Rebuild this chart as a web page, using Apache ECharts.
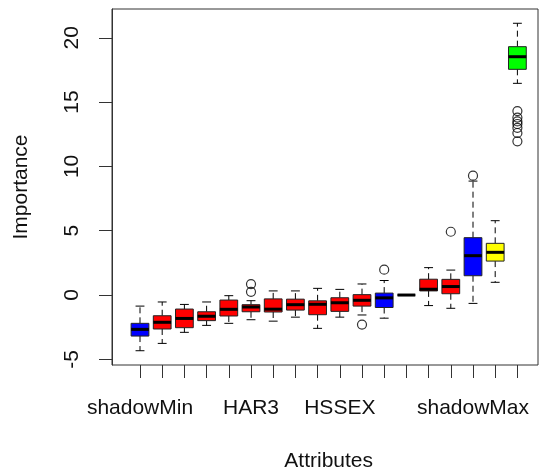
<!DOCTYPE html>
<html>
<head>
<meta charset="utf-8">
<script src="https://cdn.jsdelivr.net/npm/echarts@6/dist/echarts.min.js"></script>
<style>
  html, body { margin: 0; padding: 0; background: #fff; }
  #chart { width: 545px; height: 474px; }
</style>
</head>
<body>
<div id="chart"></div>
<script>
// labels R actually drew under the ticks (others were dropped for overlap)
const xLabels = ["shadowMin", "", "", "", "", "HAR3", "", "", "", "HSSEX", "", "", "", "", "", "shadowMax", "", ""];
const yTicks = [-5, 0, 5, 10, 15, 20];

// five-number summaries per attribute
const lower  = [-4.33, -3.76, -2.90, -2.36, -2.20, -1.92, -2.03, -1.72, -2.59, -1.72, -1.55, -1.80, 0, -0.82, -1.03, -0.65, 0.99, 16.46];
const q1     = [-3.19, -2.64, -2.54, -1.99, -1.63, -1.30, -1.32, -1.17, -1.53, -1.27, -0.86, -0.97, 0, 0.32, 0.10, 1.50, 2.64, 17.55];
const median = [-2.67, -2.12, -1.82, -1.65, -1.11, -0.93, -1.10, -0.75, -0.72, -0.60, -0.41, -0.22, 0, 0.45, 0.66, 3.06, 3.32, 18.53];
const q3     = [-2.20, -1.61, -1.09, -1.30, -0.39, -0.75, -0.30, -0.32, -0.45, -0.21, 0.03, 0.15, 0, 1.23, 1.22, 4.46, 4.02, 19.31];
const upper  = [-0.86, -0.54, -0.73, -0.54, -0.05, -0.44, 0.32, 0.32, 0.52, 0.44, 0.86, 1.13, 0, 2.13, 1.94, 8.86, 5.78, 21.13];

// [attribute index, value]
const outliers = [
  [5, 0.85], [5, 0.25], [10, -2.3], [11, 1.97], [14, 4.92], [15, 9.28],
  [17, 14.3], [17, 13.8], [17, 13.5], [17, 13.3], [17, 13.0], [17, 12.6], [17, 11.95],
];

const BLUE = "#0000FF", RED = "#FF0000", YELLOW = "#FFFF00", GREEN = "#00FF00";
const boxColors = [BLUE, RED, RED, RED, RED, RED, RED, RED, RED, RED, RED, BLUE, RED, RED, RED, BLUE, YELLOW, GREEN];

const categories = xLabels.map((_, i) => String(i + 1));
const boxData = categories.map((c, i) => [i, lower[i], q1[i], median[i], q3[i], upper[i]]);

const FONT = "Liberation Sans, Arial, sans-serif";
const LINE = "#333";
const Y_MIN = -5.44, Y_MAX = 22.24;

function renderBox(params, api) {
  const i = api.value(0);
  const bw = api.size([1, 0])[0];
  const w = bw * 0.8;
  const cap = w / 2;
  const x = api.coord([i, 0])[0];
  const y = (k) => api.coord([i, api.value(k)])[1];
  const yMin = y(1), yQ1 = y(2), yMed = y(3), yQ3 = y(4), yMax = y(5);
  const line = (x1, y1, x2, y2, extra) => ({
    type: "line",
    shape: { x1, y1, x2, y2 },
    style: Object.assign({ stroke: "#000", lineWidth: 1 }, extra || {}),
  });
  return {
    type: "group",
    children: [
      line(x, yQ3, x, yMax, { lineDash: [6, 4] }),
      line(x, yQ1, x, yMin, { lineDash: [6, 4] }),
      line(x - cap / 2, yMax, x + cap / 2, yMax),
      line(x - cap / 2, yMin, x + cap / 2, yMin),
      {
        type: "rect",
        shape: { x: x - w / 2, y: yQ3, width: w, height: yQ1 - yQ3 },
        style: { fill: boxColors[params.dataIndex], stroke: "#222", lineWidth: 1 },
      },
      line(x - w / 2, yMed, x + w / 2, yMed, { lineWidth: 3 }),
    ],
  };
}

const chart = echarts.init(document.getElementById("chart"));
chart.setOption({
  animation: false,
  textStyle: { fontFamily: FONT },
  grid: [
    // frame
    { left: 112, right: 7, top: 9, bottom: 109, outerBoundsMode: "none", containLabel: false,
      show: true, borderColor: LINE, borderWidth: 1 },
    // box positions
    { left: 128.9, right: 16.5, top: 9, bottom: 109, outerBoundsMode: "none", containLabel: false },
  ],
  xAxis: [
    { gridIndex: 0, type: "value", min: 0, max: 1, show: false },
    {
      gridIndex: 1,
      type: "category",
      data: categories,
      boundaryGap: true,
      axisLine: { show: false, onZero: false },
      axisTick: { show: true, alignWithLabel: true, interval: 0, length: 13, lineStyle: { color: LINE } },
      axisLabel: {
        interval: 0,
        margin: 33,
        fontSize: 21,
        color: "#111",
        fontFamily: FONT,
        formatter: (v, idx) => xLabels[idx],
      },
      splitLine: { show: false },
      name: "Attributes",
      nameLocation: "middle",
      nameGap: 86,
      nameTextStyle: { fontSize: 21, color: "#111", fontFamily: FONT },
    },
  ],
  yAxis: [
    {
      gridIndex: 0,
      type: "value",
      min: Y_MIN,
      max: Y_MAX,
      axisLine: { show: true, onZero: false, lineStyle: { color: LINE } },
      axisTick: { show: true, length: 13, customValues: yTicks, lineStyle: { color: LINE } },
      axisLabel: { rotate: 90, margin: 29, fontSize: 21, color: "#111", fontFamily: FONT, customValues: yTicks },
      splitLine: { show: false },
      name: "Importance",
      nameLocation: "middle",
      nameGap: 80,
      nameTextStyle: { fontSize: 21, color: "#111", fontFamily: FONT },
    },
    { gridIndex: 1, type: "value", min: Y_MIN, max: Y_MAX, show: false },
  ],
  series: [
    {
      type: "custom",
      xAxisIndex: 1,
      yAxisIndex: 1,
      renderItem: renderBox,
      encode: { x: 0, y: [1, 2, 3, 4, 5] },
      data: boxData,
    },
    {
      type: "scatter",
      xAxisIndex: 1,
      yAxisIndex: 1,
      symbol: "circle",
      symbolSize: 9,
      itemStyle: { color: "rgba(0,0,0,0)", borderColor: "#000", borderWidth: 1.2 },
      data: outliers,
    },
  ],
});
</script>
</body>
</html>
